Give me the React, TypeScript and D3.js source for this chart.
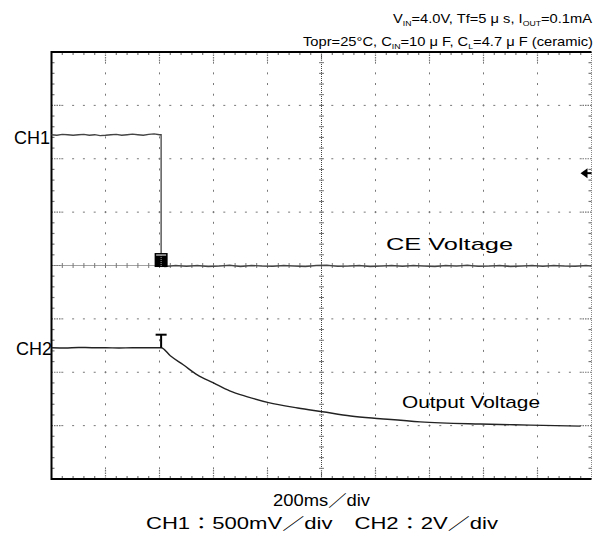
import React from "react";
import * as d3 from "d3";

// ---- data (time in divisions 0..10, level in divisions 0..8 from bottom) ----
const ch1Time = [
  0, 0.1, 0.2, 0.3, 0.4, 0.5, 0.6, 0.7, 0.8, 0.9, 1.0, 1.1, 1.2, 1.3, 1.4, 1.5, 1.6, 1.7, 1.8, 1.9, 2.0, 2.03,
  2.03, 2.1, 2.3, 2.5, 2.7, 2.9, 3.1, 3.3, 3.5, 3.7, 3.9, 4.1, 4.3, 4.5, 4.7, 4.9, 5.1, 5.3, 5.5, 5.7, 5.9,
  6.1, 6.3, 6.5, 6.7, 6.9, 7.1, 7.3, 7.5, 7.7, 7.9, 8.1, 8.3, 8.5, 8.7, 8.9, 9.1, 9.3, 9.5, 9.7, 9.9, 10.0,
];
const ch1Value = [
  6.45, 6.44, 6.455, 6.45, 6.44, 6.45, 6.455, 6.44, 6.45, 6.435, 6.44, 6.45, 6.455, 6.44, 6.45, 6.46, 6.45, 6.44, 6.455, 6.465, 6.45, 6.45,
  3.99, 3.98, 4.0, 3.985, 4.0, 3.98, 3.99, 4.005, 3.98, 4.0, 3.99, 3.985, 4.0, 3.99, 3.98, 4.0, 4.005, 3.985, 3.99, 4.0, 3.98,
  3.99, 4.0, 3.985, 4.0, 3.99, 3.98, 4.0, 3.99, 4.005, 3.985, 3.99, 4.0, 3.98, 3.99, 4.0, 3.985, 4.0, 3.99, 3.985, 4.0, 3.99,
];
const ch2Time = [
  0, 0.25, 0.5, 0.75, 1.0, 1.25, 1.5, 1.75, 2.03,
  2.2, 2.44, 2.7, 3.0, 3.3, 3.63, 4.02, 4.56, 5.02, 5.54, 6.09, 6.83, 7.94, 8.87, 9.8,
];
const ch2Value = [
  2.46, 2.455, 2.465, 2.46, 2.46, 2.455, 2.46, 2.46, 2.46,
  2.31, 2.14, 1.95, 1.8, 1.65, 1.54, 1.43, 1.33, 1.26, 1.18, 1.13, 1.07, 1.03, 1.01, 0.99,
];
const triggerTime = 2.03;
const ch1Level = 6.45;
const ch2Level = 2.46;
const ch1Low = 3.99;
const trigLevel = 5.73;

const headerLine1 = ["V", "IN", "=4.0V, Tf=5 μ s, I", "OUT", "=0.1mA"];
const headerLine2 = ["Topr=25°C, C", "IN", "=10 μ F, C", "L", "=4.7 μ F (ceramic)"];
const timeLabel = "200ms／div";
const voltLabel = "CH1：500mV／div　CH2：2V／div";
const ch1Label = "CH1";
const ch2Label = "CH2";
const ceLabel = "CE Voltage";
const outLabel = "Output Voltage";

const X_DIVS = 10;
const Y_DIVS = 8;
const SUB = 5;

export default function App() {
  const left = 51.5, right = 591.5, top = 52, bottom = 479;
  const x = d3.scaleLinear().domain([0, X_DIVS]).range([left, right]);
  const y = d3.scaleLinear().domain([0, Y_DIVS]).range([bottom, top]);
  const font = "'Liberation Sans', Arial, 'Noto Sans CJK JP', sans-serif";
  const gridCol = "#777";

  const xMinor = d3.range(1, X_DIVS * SUB).map((i) => i / SUB);
  const yMinor = d3.range(1, Y_DIVS * SUB).map((i) => i / SUB);
  const xMajor = d3.range(1, X_DIVS);
  const yMajor = d3.range(1, Y_DIVS);

  const grid: React.ReactNode[] = [];
  yMajor.filter((v) => v !== Y_DIVS / 2).forEach((yv) => {
    xMinor.forEach((xv, i) => {
      grid.push(<rect key={`h${yv}-${i}`} x={x(xv) - 1} y={y(yv) - 0.5} width={2} height={1} fill={gridCol} />);
    });
  });
  xMajor.filter((v) => v !== X_DIVS / 2).forEach((xv) => {
    yMinor.forEach((yv, i) => {
      grid.push(<rect key={`v${xv}-${i}`} x={x(xv) - 0.5} y={y(yv) - 1} width={1} height={2} fill={gridCol} />);
    });
  });
  const cx = x(X_DIVS / 2), cy = y(Y_DIVS / 2);
  grid.push(<line key="cxl" x1={cx} x2={cx} y1={top} y2={bottom} stroke="#444" strokeWidth={1} strokeDasharray="1 1" />);
  grid.push(<line key="cyl" x1={left} x2={right} y1={cy} y2={cy} stroke="#444" strokeWidth={1} strokeDasharray="1 1" />);
  xMinor.forEach((xv, i) => {
    grid.push(<line key={`cxt${i}`} x1={x(xv)} x2={x(xv)} y1={cy - 2.5} y2={cy + 2.5} stroke={gridCol} strokeWidth={1} />);
  });
  yMinor.forEach((yv, i) => {
    grid.push(<line key={`cyt${i}`} x1={cx - 2.5} x2={cx + 2.5} y1={y(yv)} y2={y(yv)} stroke={gridCol} strokeWidth={1} />);
  });
  xMinor.forEach((xv, i) => {
    const major = Math.abs(xv - Math.round(xv)) < 1e-6;
    const len = major ? 10 : 3;
    grid.push(<line key={`tt${i}`} x1={x(xv)} x2={x(xv)} y1={top} y2={top + len} stroke={gridCol} strokeWidth={1.2} strokeDasharray={major ? "1.5 1" : undefined} />);
    grid.push(<line key={`bt${i}`} x1={x(xv)} x2={x(xv)} y1={bottom} y2={bottom - len} stroke={gridCol} strokeWidth={1.2} strokeDasharray={major ? "1.5 1" : undefined} />);
  });
  yMinor.forEach((yv, i) => {
    const major = Math.abs(yv - Math.round(yv)) < 1e-6;
    const len = major ? 10 : 3;
    grid.push(<line key={`lt${i}`} x1={left} x2={left + len} y1={y(yv)} y2={y(yv)} stroke={gridCol} strokeWidth={1.2} strokeDasharray={major ? "1.5 1" : undefined} />);
    grid.push(<line key={`rt${i}`} x1={right} x2={right - len} y1={y(yv)} y2={y(yv)} stroke={gridCol} strokeWidth={1.2} strokeDasharray={major ? "1.5 1" : undefined} />);
  });

  const ch1Data = ch1Time.map((t, i) => [t, ch1Value[i]] as [number, number]);
  const ch2Data = ch2Time.map((t, i) => [t, ch2Value[i]] as [number, number]);
  const line1 = d3.line<[number, number]>().x((d) => x(d[0])).y((d) => y(d[1]));
  const line2 = d3.line<[number, number]>().x((d) => x(d[0])).y((d) => y(d[1])).curve(d3.curveMonotoneX);

  const tx = x(triggerTime);
  const renderHeader = (parts: string[]) =>
    parts.map((p, i) =>
      i % 2 === 1 ? (
        <tspan key={`s${i}`} fontSize={8} dy={2.5}>{p}</tspan>
      ) : (
        <tspan key={`n${i}`} dy={i === 0 ? 0 : -2.5}>{p}</tspan>
      )
    );

  return (
    <svg width={600} height={537} style={{ display: "block", position: "absolute", left: 0, top: 0 }}>
      <rect x={0} y={0} width={600} height={537} fill="#fff" />
      <text x={393} y={23} fontFamily={font} fontSize={13.5} fill="#000" textLength={199} lengthAdjust="spacingAndGlyphs">
        {renderHeader(headerLine1)}
      </text>
      <text x={303} y={46} fontFamily={font} fontSize={13.5} fill="#000" textLength={290} lengthAdjust="spacingAndGlyphs">
        {renderHeader(headerLine2)}
      </text>
      <g>{grid}</g>
      <line x1={right} x2={right} y1={top} y2={bottom} stroke="#888" strokeWidth={1} strokeDasharray="1 1" />
      <path d={`M${right},${top}H${left}V${bottom}H${right}`} fill="none" stroke="#000" strokeWidth={2} />
      <path d={line1(ch1Data) || ""} fill="none" stroke="#444" strokeWidth={1.3} />
      <path d={line2(ch2Data) || ""} fill="none" stroke="#222" strokeWidth={1.4} />
      <rect x={tx - 6.5} y={y(ch1Low) - 13} width={13} height={14} fill="#000" />
      <line x1={tx - 5} x2={tx + 5} y1={y(ch1Low) - 11} y2={y(ch1Low) - 11} stroke="#aaa" strokeWidth={1.5} />
      <line x1={tx} x2={tx} y1={y(ch1Low) - 11} y2={y(ch1Low) + 1} stroke="#aaa" strokeWidth={1} strokeDasharray="1 1" />
      <line x1={tx - 5.5} x2={tx + 5.5} y1={y(ch2Level) - 13} y2={y(ch2Level) - 13} stroke="#000" strokeWidth={2} />
      <line x1={tx} x2={tx} y1={y(ch2Level) - 13} y2={y(ch2Level)} stroke="#000" strokeWidth={2} />
      <path d={`M${right - 11},${y(trigLevel)} L${right - 4},${y(trigLevel) - 5} L${right - 4},${y(trigLevel) + 5} Z`} fill="#000" />
      <line x1={right - 5} x2={right} y1={y(trigLevel)} y2={y(trigLevel)} stroke="#000" strokeWidth={2} />
      <text x={50} y={y(ch1Level) + 9} textAnchor="end" fontFamily={font} fontSize={18}>{ch1Label}</text>
      <text x={52} y={y(ch2Level) + 7} textAnchor="end" fontFamily={font} fontSize={18}>{ch2Label}</text>
      <text x={386} y={250} fontFamily={font} fontSize={17} textLength={127} lengthAdjust="spacingAndGlyphs">{ceLabel}</text>
      <text x={402} y={408} fontFamily={font} fontSize={17} textLength={138} lengthAdjust="spacingAndGlyphs">{outLabel}</text>
      <text x={273} y={506} fontFamily={font} fontSize={16} textLength={97} lengthAdjust="spacingAndGlyphs">{timeLabel}</text>
      <text x={146} y={529} fontFamily={font} fontSize={16} textLength={352} lengthAdjust="spacingAndGlyphs">{voltLabel}</text>
    </svg>
  );
}
